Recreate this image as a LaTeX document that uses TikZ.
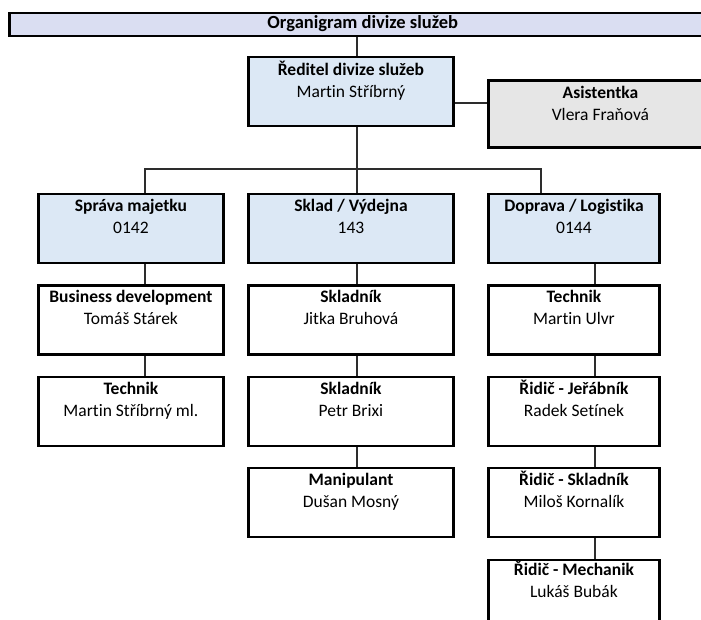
\documentclass[tikz,border=0pt]{standalone}
\usepackage{fontspec}
\setmainfont{Carlito}[Ligatures=NoCommon]
\definecolor{titlefill}{RGB}{218,222,242}
\definecolor{bluefill}{RGB}{220,232,245}
\definecolor{greyfill}{RGB}{230,230,230}
\definecolor{conncol}{RGB}{45,45,45}
\newcommand\orgbox[9]{%
  \node[box,#6,minimum width=#4pt,minimum height=#5pt,anchor=north west] (#1) at (#2,#3) {};
  \node[tb,anchor=base] (#1-a) at ([yshift=-#9pt]#1.north) {#7};
  \node[tn,anchor=base] (#1-b) at ([yshift=-#9pt-22pt]#1.north) {#8};
}
\begin{document}
\begin{tikzpicture}[x=1pt,y=-1pt,
  box/.style={draw=black,line width=2.9pt,rectangle,inner sep=0pt,fill=white},
  bluebox/.style={fill=bluefill},
  greybox/.style={fill=greyfill},
  whitebox/.style={fill=white},
  tb/.style={font=\fontsize{17.5}{20}\selectfont\bfseries,inner sep=0pt},
  tn/.style={font=\fontsize{17.5}{20}\selectfont,inner sep=0pt},
  conn/.style={draw=conncol,line width=1.3pt}]
\useasboundingbox (0,0) rectangle (701,619);
\clip (0,0) rectangle (701,619);
\fill[white] (0,0) rectangle (701,619);
% coordinates for connector columns
\coordinate (c1) at (145,0);
\coordinate (c2) at (357,0);
\coordinate (c3) at (541,0);
\coordinate (c4) at (595,0);
\coordinate (bus) at (0,169);
\coordinate (asy) at (0,103);
% title
\node[draw=black,line width=2.5pt,fill=titlefill,minimum width=707pt,minimum height=23pt,anchor=north west,inner sep=0pt] (title) at (8,11.5) {};
\node[font=\fontsize{18.5}{20}\selectfont\bfseries,inner sep=0pt,anchor=base] (titletext) at ([yshift=-17pt]title.north) {Organigram divize služeb};
% top
\orgbox{dir}{247}{55.5}{205}{69}{bluebox}{Ředitel divize služeb}{Martin Stříbrný}{19.5}
\orgbox{asst}{487}{79}{224}{67}{greybox}{Asistentka}{Vlera Fraňová}{19}
% departments
\orgbox{d1}{37}{192.5}{185}{69}{bluebox}{Správa majetku}{0142}{18.5}
\orgbox{d2}{247}{192.5}{205}{69}{bluebox}{Sklad / Výdejna}{143}{18.5}
\orgbox{d3}{487}{192.5}{171}{69}{bluebox}{Doprava / Logistika}{0144}{18.5}
% row 2
\orgbox{r21}{37}{284}{185}{69}{whitebox}{Business development}{Tomáš Stárek}{18.5}
\orgbox{r22}{247}{284}{205}{69}{whitebox}{Skladník}{Jitka Bruhová}{18.5}
\orgbox{r23}{487}{284}{171}{69}{whitebox}{Technik}{Martin Ulvr}{18.5}
% row 3
\orgbox{r31}{37}{375.5}{185}{69}{whitebox}{Technik}{Martin Stříbrný ml.}{18.5}
\orgbox{r32}{247}{375.5}{205}{69}{whitebox}{Skladník}{Petr Brixi}{18.5}
\orgbox{r33}{487}{375.5}{171}{69}{whitebox}{Řidič - Jeřábník}{Radek Setínek}{18.5}
% row 4
\orgbox{r42}{247}{466.5}{205}{69}{whitebox}{Manipulant}{Dušan Mosný}{18.5}
\orgbox{r43}{487}{466.5}{171}{69}{whitebox}{Řidič - Skladník}{Miloš Kornalík}{18.5}
% row 5
\orgbox{r53}{487}{558.5}{171}{69}{whitebox}{Řidič - Mechanik}{Lukáš Bubák}{16.5}
% connectors
\draw[conn] (title.south -| c2) -- (dir.north -| c2);
\draw[conn] (dir.east |- asy) -- (asst.west |- asy);
\draw[conn] (dir.south -| c2) -- (bus -| c2);
\draw[conn] (d1.north -| c1) -- (bus -| c1) -- (bus -| c3) -- (d3.north -| c3);
\draw[conn] (bus -| c2) -- (d2.north -| c2);
\draw[conn] (d1.south -| c1) -- (r21.north -| c1);
\draw[conn] (r21.south -| c1) -- (r31.north -| c1);
\draw[conn] (d2.south -| c2) -- (r22.north -| c2);
\draw[conn] (r22.south -| c2) -- (r32.north -| c2);
\draw[conn] (r32.south -| c2) -- (r42.north -| c2);
\draw[conn] (d3.south -| c4) -- (r23.north -| c4);
\draw[conn] (r23.south -| c4) -- (r33.north -| c4);
\draw[conn] (r33.south -| c4) -- (r43.north -| c4);
\draw[conn] (r43.south -| c4) -- (r53.north -| c4);
\end{tikzpicture}
\end{document}
